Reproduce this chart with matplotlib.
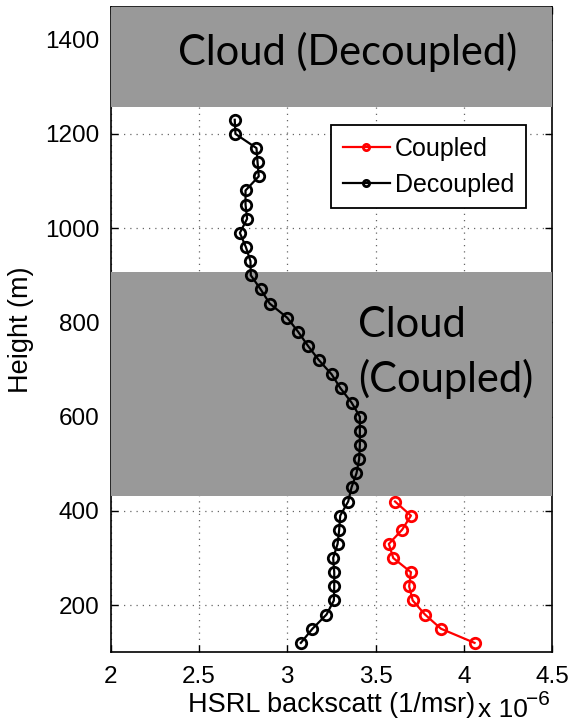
import matplotlib.pyplot as plt
from matplotlib.patches import Rectangle

# heights (m) and HSRL backscatter (x 1e-6 1/msr)
h_coupled = [120, 150, 180, 210, 240, 270, 300, 330, 360, 390, 420]
b_coupled = [4.06, 3.87, 3.78, 3.71, 3.69, 3.70, 3.60, 3.575, 3.65, 3.70, 3.61]

h_decoupled = [120, 150, 180, 210, 240, 270, 300, 330, 360, 390,
               420, 450, 480, 510, 540, 570, 600, 630, 660, 690,
               720, 750, 780, 810, 840, 870, 900, 930, 960, 990,
               1020, 1050, 1080, 1110, 1140, 1170, 1200, 1230]
b_decoupled = [3.077, 3.143, 3.222, 3.264, 3.266, 3.266, 3.26, 3.285, 3.294, 3.30,
               3.345, 3.364, 3.392, 3.407, 3.411, 3.411, 3.411, 3.364, 3.302, 3.251,
               3.179, 3.118, 3.062, 3.0, 2.901, 2.85, 2.794, 2.792, 2.766, 2.732,
               2.773, 2.764, 2.764, 2.839, 2.832, 2.826, 2.707, 2.703]

# cloud layers (bottom, top) in m
cloud_coupled = (432, 907)
cloud_decoupled = (1258, 1470)

xticks = [2, 2.5, 3, 3.5, 4, 4.5]
yticks = [200, 400, 600, 800, 1000, 1200, 1400]

plt.rcParams['font.family'] = ['Liberation Sans', 'DejaVu Sans']

fig = plt.figure(figsize=(5.71, 7.24), dpi=100)
ax = fig.add_axes([110.5/571, 1-652.3/724, (552.3-110.5)/571, (652.3-6.7)/724])
ax.set_xlim(2, 4.5)
ax.set_ylim(100, 1470)
ax.set_xticks(xticks)
ax.set_xticklabels(['2', '2.5', '3', '3.5', '4', '4.5'])
ax.set_yticks(yticks)
ax.tick_params(direction='in', length=5, width=1, top=True, right=True,
               labelsize=17.5)
ax.tick_params(axis='x', pad=10)
ax.tick_params(axis='y', pad=8)
ax.grid(True, linestyle=(0, (1, 4)), color='0.4', linewidth=0.9)
ax.set_axisbelow(True)
for s in ax.spines.values():
    s.set_linewidth(1.2)

gray = '#999999'
for lo, hi in [cloud_coupled, cloud_decoupled]:
    ax.add_patch(Rectangle((2, lo), 2.5, hi - lo, facecolor=gray,
                           edgecolor='none', zorder=2.6, clip_on=False))

ax.plot(b_coupled, h_coupled, '-o', color='red', lw=1.6, ms=7.5, mew=2,
        mfc='none', label='Coupled', zorder=4)
ax.plot(b_decoupled, h_decoupled, '-o', color='black', lw=1.6, ms=7.5, mew=2,
        mfc='none', label='Decoupled', zorder=4)

leg = ax.legend(loc='upper right', bbox_to_anchor=(525.7/571, 1-125.3/724),
                bbox_transform=fig.transFigure, fontsize=18, frameon=True,
                fancybox=False, framealpha=1, edgecolor='black',
                handlelength=1.9, handletextpad=0.2, borderpad=0.45,
                labelspacing=0.5, markerscale=0.6, borderaxespad=0)
leg.get_frame().set_linewidth(1.3)
leg.set_zorder(5)

ax.set_xlabel('HSRL backscatt (1/msr)', fontsize=19.5, labelpad=3)
ax.set_ylabel('Height (m)', fontsize=19.5, labelpad=8)
fig.text(478/571, 1-717/724, 'x 10', fontsize=19,
         va='baseline', ha='left')
fig.text(526/571, 1-705/724, '\u22126', fontsize=15,
         va='baseline', ha='left')

cloud_font = dict(family='Lato', fontsize=30, va='baseline', ha='left')
fig.text(178/571, 1-65/724, 'Cloud (Decoupled)', **cloud_font)
fig.text(358/571, 1-337/724, 'Cloud', **cloud_font)
fig.text(358/571, 1-392/724, '(Coupled)', **cloud_font)

fig.savefig('out.png', dpi=100)
